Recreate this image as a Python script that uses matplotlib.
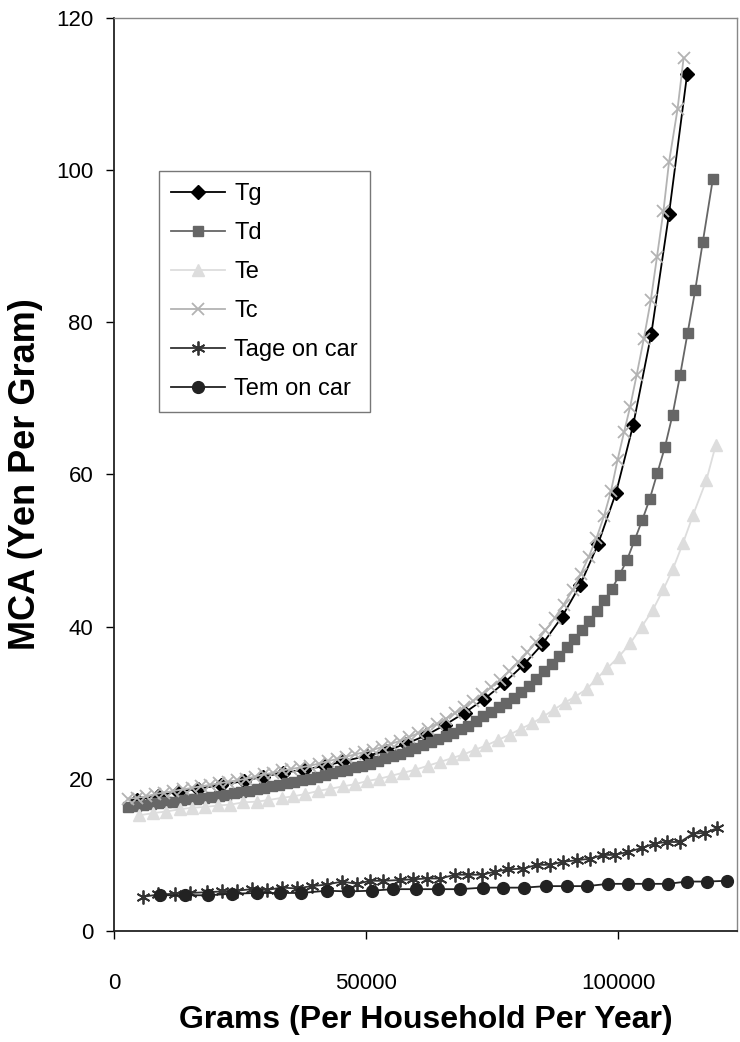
import numpy as np
import matplotlib
matplotlib.use("Agg")
import matplotlib.pyplot as plt

plt.rcParams['font.family'] = ['Liberation Sans', 'DejaVu Sans']

# x values in thousands of grams, y in yen per gram
tg_x = [4.5, 8.8, 12.7, 16.7, 21.3, 25.7, 29.6, 33.6, 37.6, 41.9, 45.5, 50.1, 54.1, 57.9, 61.9,
        65.7, 69.6, 73.5, 77.4, 81.3, 85.0, 88.9, 92.5, 96.0, 99.6, 103.0, 106.6, 110.1, 113.7]
tg_y = [17.2, 17.8, 18.3, 18.7, 19.2, 19.7, 20.3, 20.8, 21.2, 21.7, 22.3, 23.0, 23.7, 24.6, 25.7,
        27.1, 28.7, 30.5, 32.6, 35.0, 37.7, 41.3, 45.5, 50.8, 57.6, 66.5, 78.5, 94.2, 112.6]

td_x = [2.8, 4.3, 5.8, 7.3, 8.8, 10.3, 11.8, 13.3, 14.8, 16.3, 17.8, 19.3, 20.8, 22.3, 23.8,
        25.3, 26.8, 28.3, 29.8, 31.3, 32.8, 34.3, 35.8, 37.3, 38.8, 40.3, 41.8, 43.3, 44.8, 46.3,
        47.8, 49.3, 50.8, 52.3, 53.8, 55.3, 56.8, 58.3, 59.8, 61.3, 62.8, 64.3, 65.8, 67.3, 68.8,
        70.3, 71.8, 73.3, 74.8, 76.3, 77.8, 79.3, 80.8, 82.3, 83.8, 85.3, 86.8, 88.3, 89.8, 91.3,
        92.8, 94.3, 95.8, 97.3, 98.8, 100.3, 101.8, 103.3, 104.8, 106.3, 107.8, 109.3, 110.8,
        112.3, 113.8, 115.3, 116.8, 118.8]
td_y = [16.3, 16.4, 16.5, 16.7, 16.8, 16.9, 17.0, 17.2, 17.3, 17.4, 17.5, 17.6, 17.8, 17.9, 18.1,
        18.3, 18.4, 18.6, 18.8, 19.0, 19.2, 19.4, 19.6, 19.8, 20.0, 20.2, 20.5, 20.7, 21.0, 21.2,
        21.5, 21.7, 22.0, 22.3, 22.7, 23.0, 23.3, 23.6, 24.0, 24.4, 24.8, 25.2, 25.6, 26.0, 26.5,
        27.0, 27.6, 28.2, 28.8, 29.4, 30.0, 30.6, 31.4, 32.2, 33.1, 34.1, 35.1, 36.2, 37.3, 38.4,
        39.5, 40.8, 42.0, 43.5, 45.0, 46.8, 48.8, 51.4, 54.0, 56.8, 60.2, 63.6, 67.8,
        73.0, 78.6, 84.2, 90.5, 98.8]

te_x = [5.0, 7.8, 10.3, 13.1, 15.4, 18.1, 20.7, 23.0, 25.6, 28.3, 30.6, 33.3, 35.6, 37.9, 40.5,
        42.9, 45.4, 47.8, 50.2, 52.6, 55.0, 57.4, 59.8, 62.2, 64.6, 67.0, 69.3, 71.6, 73.9, 76.2,
        78.5, 80.8, 83.0, 85.2, 87.3, 89.4, 91.5, 93.8, 95.8, 97.8, 100.1, 102.4, 104.7, 106.9,
        109.0, 110.9, 112.9, 114.9, 117.5, 119.4]
te_y = [15.2, 15.5, 15.7, 16.0, 16.2, 16.3, 16.5, 16.6, 16.9, 17.0, 17.2, 17.5, 17.7, 18.0, 18.4,
        18.7, 19.0, 19.3, 19.7, 20.0, 20.4, 20.8, 21.2, 21.7, 22.2, 22.7, 23.2, 23.8, 24.4, 25.1,
        25.8, 26.6, 27.3, 28.2, 29.1, 30.0, 30.8, 31.8, 33.2, 34.5, 36.0, 37.8, 40.0, 42.2,
        44.9, 47.6, 51.0, 54.7, 59.2, 63.9]

tc_x = [2.8, 4.6, 6.4, 8.2, 10.0, 11.8, 13.6, 15.4, 17.2, 19.0, 20.8, 22.6, 24.4, 26.2, 28.0,
        29.8, 31.6, 33.4, 35.2, 37.0, 38.8, 40.6, 42.4, 44.2, 46.0, 47.8, 49.6, 51.4, 53.2, 55.0,
        56.8, 58.6, 60.4, 62.2, 64.0, 65.8, 67.6, 69.4, 71.2, 73.0, 74.8, 76.6, 78.4, 80.2, 82.0,
        83.8, 85.6, 87.4, 89.2, 91.0, 92.6, 94.2, 95.7, 97.2, 98.6, 99.9, 101.2, 102.4, 103.7,
        105.1, 106.5, 107.7, 109.0, 110.1, 111.8, 113.0]
tc_y = [17.4, 17.5, 17.7, 18.0, 18.2, 18.4, 18.6, 18.8, 19.0, 19.2, 19.4, 19.6, 19.8, 20.0, 20.3,
        20.6, 20.8, 21.1, 21.3, 21.5, 21.7, 22.0, 22.3, 22.6, 22.9, 23.2, 23.5, 23.8, 24.2, 24.6,
        25.0, 25.5, 26.0, 26.6, 27.2, 27.9, 28.6, 29.4, 30.2, 31.1, 32.0, 33.0, 34.1, 35.3, 36.6,
        38.0, 39.5, 41.1, 42.9, 44.8, 46.9, 49.2, 51.6, 54.5, 57.8, 61.9, 65.6, 68.9, 73.1,
        77.8, 82.9, 88.5, 94.6, 101.0, 108.0, 114.7]

tage_x = [5.8, 8.8, 12.1, 15.1, 18.4, 21.4, 24.4, 27.3, 30.3, 33.3, 36.3, 39.2, 42.2, 45.2, 48.2,
          50.8, 53.4, 56.7, 59.4, 62.0, 64.7, 67.7, 70.3, 73.0, 75.6, 78.2, 81.2, 83.9, 86.5, 89.1,
          91.8, 94.4, 97.1, 99.4, 102.0, 104.7, 107.3, 109.7, 112.3, 114.9, 117.3, 119.6]
tage_y = [4.5, 4.8, 4.9, 5.0, 5.1, 5.2, 5.3, 5.5, 5.4, 5.7, 5.6, 5.9, 6.1, 6.5, 6.2,
          6.6, 6.6, 6.7, 6.8, 6.9, 6.9, 7.4, 7.4, 7.4, 7.8, 8.1, 8.2, 8.7, 8.7, 9.1,
          9.3, 9.5, 10.0, 10.0, 10.4, 10.9, 11.5, 11.7, 11.7, 12.8, 12.9, 13.5]

tem_x = [9.1, 14.1, 18.7, 23.5, 28.3, 32.9, 37.2, 42.2, 46.5, 51.1, 55.4, 60.0, 64.3, 68.7,
         73.2, 77.1, 81.3, 85.7, 89.8, 93.8, 98.1, 102.0, 106.0, 109.9, 113.6, 117.6, 121.6]
tem_y = [4.7, 4.7, 4.7, 4.9, 5.0, 5.0, 5.0, 5.3, 5.2, 5.3, 5.5, 5.5, 5.5, 5.5,
         5.7, 5.7, 5.7, 5.9, 5.9, 5.9, 6.2, 6.2, 6.2, 6.2, 6.5, 6.5, 6.6]

series = [
    ('Tg', tg_x, tg_y, dict(color='#000000', marker='D', ms=7)),
    ('Td', td_x, td_y, dict(color='#666666', marker='s', ms=7)),
    ('Te', te_x, te_y, dict(color='#dddddd', marker='^', ms=8)),
    ('Tc', tc_x, tc_y, dict(color='#b3b3b3', marker='x', ms=8, mew=1.3)),
    ('Tage on car', tage_x, tage_y, dict(color='#333333', marker=(6, 2, 0), ms=10, mew=1.3)),
    ('Tem on car', tem_x, tem_y, dict(color='#222222', marker='o', ms=8.5)),
]

fig = plt.figure(figsize=(7.4, 10.42), dpi=100)
ax = fig.add_axes([0.154, 0.1065, 0.842, 0.8765])

for name, xs, ys, st in series:
    ax.plot(np.array(xs) * 1000, ys, lw=1.3, label=name, **st)

ax.set_xlim(0, 123600)
ax.set_ylim(0, 120)
ax.set_xticks([0, 50000, 100000])
ax.set_yticks(range(0, 121, 20))
ax.tick_params(direction='out', length=6, width=1, labelsize=16)
ax.tick_params(axis='x', pad=24)
ax.tick_params(axis='y', pad=9)

for s in ['left', 'bottom']:
    ax.spines[s].set_color('#222222')
    ax.spines[s].set_linewidth(1.3)
for s in ['right', 'top']:
    ax.spines[s].set_color('#888888')
    ax.spines[s].set_linewidth(1.0)

ax.set_xlabel('Grams (Per Household Per Year)', fontsize=23, fontweight='bold', labelpad=8)
ax.set_ylabel('MCA (Yen Per Gram)', fontsize=26, fontweight='bold', labelpad=9)

leg = ax.legend(loc='upper left', bbox_to_anchor=(0.072, 0.832), borderaxespad=0,
                fontsize=17, frameon=True, fancybox=False, handlelength=2.3,
                labelspacing=0.72, borderpad=0.5, handletextpad=0.4)
leg.get_frame().set_edgecolor('#555555')
leg.get_frame().set_linewidth(1.0)

fig.savefig('out.png', dpi=100)
